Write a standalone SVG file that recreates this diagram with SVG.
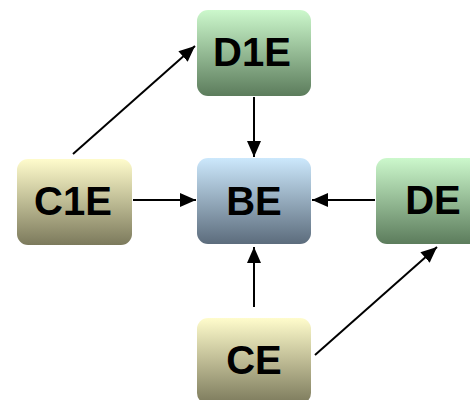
<svg xmlns="http://www.w3.org/2000/svg" width="470" height="400" viewBox="0 0 470 400">
<defs>
<linearGradient id="gGreen" x1="0" y1="0" x2="0" y2="1">
<stop offset="0" stop-color="#ccf8cc"/>
<stop offset="1" stop-color="#5c7c5c"/>
</linearGradient>
<linearGradient id="gYellow" x1="0" y1="0" x2="0" y2="1">
<stop offset="0" stop-color="#fffccc"/>
<stop offset="1" stop-color="#7c7a5c"/>
</linearGradient>
<linearGradient id="gBlue" x1="0" y1="0" x2="0" y2="1">
<stop offset="0" stop-color="#cce8fc"/>
<stop offset="1" stop-color="#5c6c7c"/>
</linearGradient>
<marker id="arr" viewBox="0 0 16 14" refX="16" refY="7" markerWidth="16" markerHeight="14" markerUnits="userSpaceOnUse" orient="auto">
<path d="M0,0 L16,7 L0,14 Z" fill="#000"/>
</marker>
</defs>
<style>
.lbl{font-family:"Liberation Sans",Arial,sans-serif;font-weight:bold;font-size:40px;fill:#000;text-anchor:middle}
.edge{stroke:#000;stroke-width:2;fill:none;marker-end:url(#arr)}
</style>
<rect width="470" height="400" fill="#fff"/>
<g id="connectors">
<line class="edge" x1="254" y1="97" x2="254" y2="157"/>
<line class="edge" x1="133" y1="200" x2="196" y2="200"/>
<line class="edge" x1="375" y1="200" x2="312" y2="200"/>
<line class="edge" x1="254" y1="307" x2="254" y2="247"/>
<line class="edge" x1="73" y1="154" x2="195" y2="46"/>
<line class="edge" x1="315" y1="355" x2="437" y2="247"/>
</g>
<g id="D1E">
<rect x="197" y="10" width="114" height="86" rx="11" fill="url(#gGreen)"/>
<text class="lbl" x="252" y="66">D1E</text>
</g>
<g id="C1E">
<rect x="17" y="159" width="115" height="86" rx="11" fill="url(#gYellow)"/>
<text class="lbl" x="73" y="215">C1E</text>
</g>
<g id="BE">
<rect x="197" y="158" width="114" height="86" rx="11" fill="url(#gBlue)"/>
<text class="lbl" x="254" y="215">BE</text>
</g>
<g id="DE">
<rect x="376" y="158" width="114" height="86" rx="11" fill="url(#gGreen)"/>
<text class="lbl" x="433" y="214">DE</text>
</g>
<g id="CE">
<rect x="197" y="318" width="114" height="86" rx="11" fill="url(#gYellow)"/>
<text class="lbl" x="254" y="374">CE</text>
</g>
</svg>
